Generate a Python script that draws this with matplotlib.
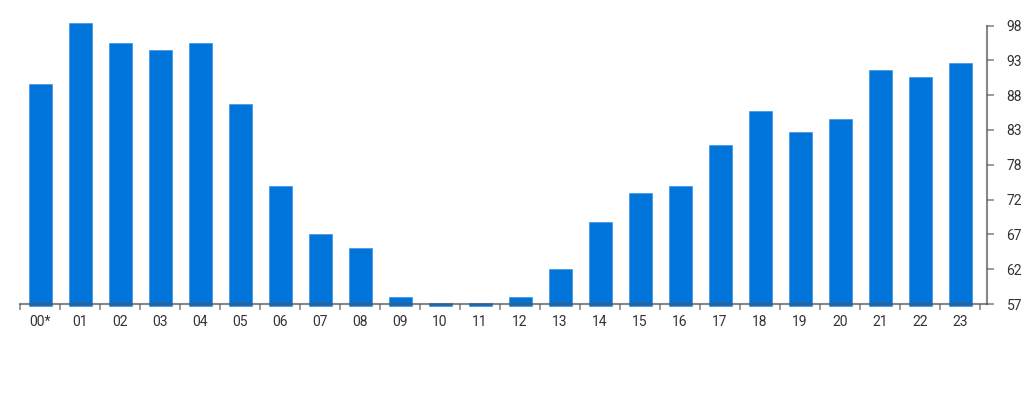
import matplotlib
matplotlib.use("Agg")
import matplotlib.pyplot as plt
import numpy as np

categories = ["00*", "01", "02", "03", "04", "05", "06", "07", "08", "09", "10", "11",
              "12", "13", "14", "15", "16", "17", "18", "19", "20", "21", "22", "23"]
values = [89.4, 98.4, 95.4, 94.4, 95.4, 86.5, 74.4, 67.3, 65.2, 58.1, 57.2, 57.2,
          58.1, 62.2, 69.1, 73.3, 74.3, 80.4, 85.4, 82.3, 84.3, 91.4, 90.4, 92.5]
y_ticks = [57, 62.125, 67.25, 72.375, 77.5, 82.625, 87.75, 92.875, 98]
y_tick_labels = ["57", "62", "67", "72", "78", "83", "88", "93", "98"]
baseline = 56.7

plt.rcParams['font.family'] = ['Roboto', 'DejaVu Sans']

fig = plt.figure(figsize=(10.24, 4.0), dpi=100)
ax = fig.add_axes([20/1024, 96/400, 967/1024, (304-25.5)/400])

x = np.arange(len(categories))
bars = ax.bar(x, np.array(values) - baseline, bottom=baseline, width=0.575, color="#0074D9",
              edgecolor="#4A9BE6", linewidth=0.6, zorder=2)
for b in bars:
    b.set_clip_on(False)

ax.set_xlim(-0.5, 23.675)
ax.set_ylim(57, 98)

for s in ["top", "left"]:
    ax.spines[s].set_visible(False)
for s in ["bottom", "right"]:
    ax.spines[s].set_color("#555555")
    ax.spines[s].set_alpha(0.7)
    ax.spines[s].set_linewidth(1.5)
    ax.spines[s].set_zorder(3)

ax.set_xticks(x)
ax.set_xticklabels(categories)
ax.set_xticks(np.arange(-0.5, 24, 1), minor=True)
ax.tick_params(axis="x", which="major", length=0, pad=8, labelsize=10, labelcolor="#333333")
ax.tick_params(axis="x", which="minor", length=4, width=1.2, color="#8a8a8a", direction="out")

ax.yaxis.tick_right()
ax.set_yticks(y_ticks)
ax.set_yticklabels(y_tick_labels)
ax.tick_params(axis="y", which="major", length=5, width=1.2, color="#8a8a8a",
               pad=9, labelsize=10, labelcolor="#333333")

fig.savefig("out.png", dpi=100)
